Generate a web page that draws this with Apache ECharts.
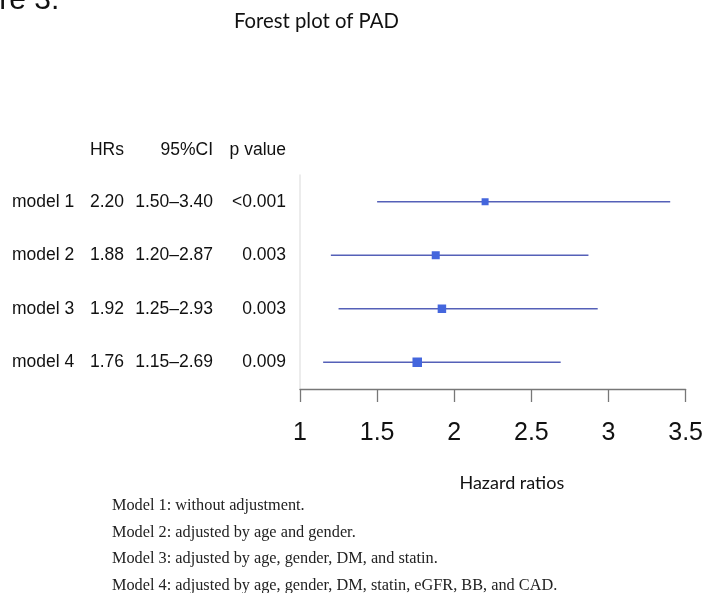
<!DOCTYPE html>
<html>
<head>
<meta charset="utf-8">
<script src="https://cdn.jsdelivr.net/npm/echarts@6/dist/echarts.min.js"></script>
<style>
  html, body { margin: 0; padding: 0; background: #fff; }
  #forest { width: 706px; height: 593px; }
</style>
</head>
<body>
<div id="forest"></div>
<script>
// data
var models = ['model 1', 'model 2', 'model 3', 'model 4'];
var hrs = [2.20, 1.88, 1.92, 1.76];
var ciLow = [1.50, 1.20, 1.25, 1.15];
var ciHigh = [3.40, 2.87, 2.93, 2.69];
var pValues = ['<0.001', '0.003', '0.003', '0.009'];
var xTicks = [1, 1.5, 2, 2.5, 3, 3.5];
var notes = [
    'Model 1: without adjustment.',
    'Model 2: adjusted by age and gender.',
    'Model 3: adjusted by age, gender, DM, and statin.',
    'Model 4: adjusted by age, gender, DM, statin, eGFR, BB, and CAD.'
];

var boxSizes = [7, 8, 8.5, 9.5];   // box size (weight) per model
var sans = 'Liberation Sans';
function cell(w, al) {
    return { width: w, align: al, fontSize: 17.5, fontFamily: sans, fontWeight: 'normal', color: '#111' };
}
var tableRich = { m: cell(66, 'left'), h: cell(46, 'right'), c: cell(89, 'right'), p: cell(73, 'right') };

var chart = echarts.init(document.getElementById('forest'));

var option = {
    backgroundColor: '#fff',
    animation: false,
    title: [
        {   // cropped "Figure 3." caption
            text: 'Figure 3.', left: -59, top: -14, padding: 0,
            textStyle: { fontFamily: sans, fontSize: 30, fontWeight: 'normal', color: '#111' }
        },
        {
            text: 'Forest plot of PAD', left: 234, top: 11, padding: 0,
            textStyle: { fontFamily: 'Lato', fontSize: 20.3, fontWeight: 'normal', color: '#111' }
        },
        {   // column headers
            text: '{m| }{h|HRs}{c|95%CI}{p|p value}', left: 12, top: 141, padding: 0,
            textStyle: { fontWeight: 'normal', rich: tableRich }
        },
        {
            text: notes.join('\n'), left: 112, top: 493, padding: 0,
            textStyle: { fontFamily: 'Liberation Serif', fontSize: 16.3, lineHeight: 26.4, fontWeight: 'normal', color: '#222' }
        }
    ],
    grid: { left: 300, right: 19, top: 175, height: 214 },
    xAxis: {
        type: 'value',
        min: xTicks[0],
        max: xTicks[xTicks.length - 1],
        interval: 0.5,
        name: 'Hazard ratios',
        nameLocation: 'middle',
        nameGap: 85,
        nameTextStyle: { fontFamily: 'Lato', fontSize: 18, color: '#111', padding: [0, 0, 0, 38] },
        splitLine: { show: false },
        axisLine: { show: true, lineStyle: { color: '#777', width: 1.3 } },
        axisTick: { show: true, length: 13, lineStyle: { color: '#777', width: 1.3 } },
        axisLabel: { fontFamily: sans, fontSize: 25, color: '#111', margin: 32 }
    },
    yAxis: {
        type: 'category',
        inverse: true,
        data: models,
        axisLine: { show: true, lineStyle: { color: '#e6e6e6', width: 1.5 } },
        axisTick: { show: false },
        splitLine: { show: false },
        axisLabel: {
            margin: 14,
            rich: tableRich,
            formatter: function (value, idx) {
                return '{m|' + value + '}{h|' + hrs[idx].toFixed(2) + '}{c|' +
                    ciLow[idx].toFixed(2) + '\u2013' + ciHigh[idx].toFixed(2) + '}{p|' + pValues[idx] + '}';
            }
        }
    },
    series: [
        {
            type: 'custom',
            data: models.map(function (m, i) { return [ciLow[i], ciHigh[i], i]; }),
            encode: { x: [0, 1], y: 2 },
            renderItem: function (params, api) {
                var a = api.coord([api.value(0), api.value(2)]);
                var b = api.coord([api.value(1), api.value(2)]);
                return {
                    type: 'line',
                    shape: { x1: a[0], y1: a[1], x2: b[0], y2: b[1] },
                    style: { stroke: '#5560b8', lineWidth: 1.4 }
                };
            },
            z: 2
        },
        {
            type: 'scatter',
            symbol: 'rect',
            data: hrs.map(function (v, i) { return [v, i]; }),
            symbolSize: function (val, params) { return boxSizes[params.dataIndex]; },
            itemStyle: { color: '#4466dd', opacity: 1 },
            z: 3
        }
    ]
};
chart.setOption(option);
</script>
</body>
</html>
